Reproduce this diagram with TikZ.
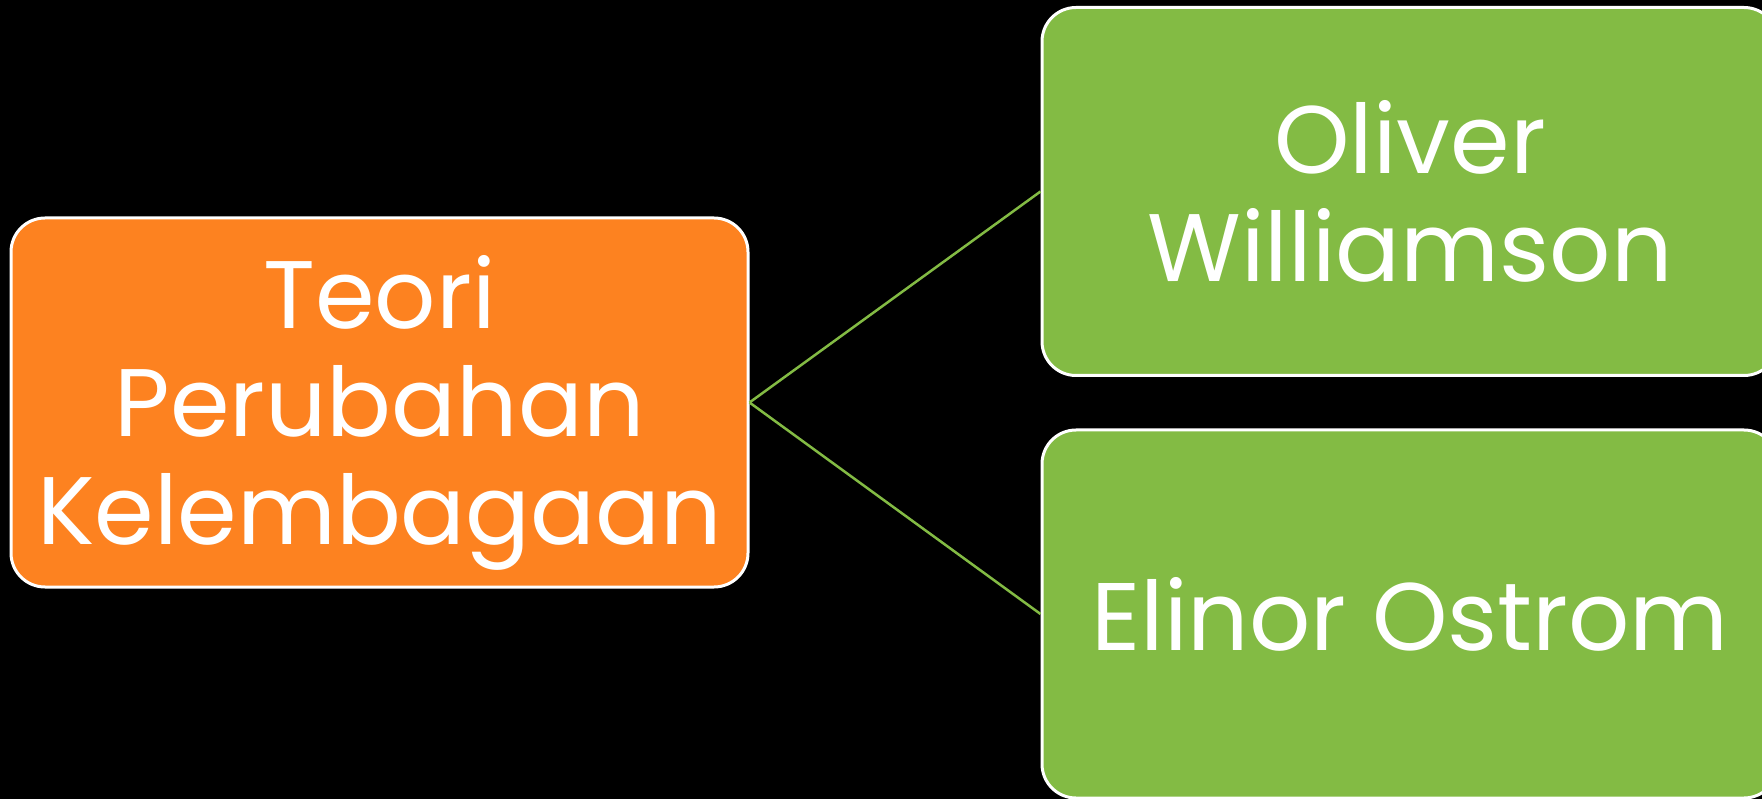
\documentclass[tikz,border=0pt]{standalone}
\usepackage{fontspec}
\setmainfont{Poppins}
\definecolor{boxorange}{HTML}{FD8220}
\definecolor{leafgreen}{HTML}{83BB44}
\begin{document}
\begin{tikzpicture}[x=1pt,y=-1pt,
  box/.style={draw=white, line width=3pt, rounded corners=34pt, text=white,
    align=center, inner sep=0pt, minimum width=736pt, minimum height=368pt,
    font=\fontsize{96}{108}\selectfont},
  caption/.style={text=white, align=center, inner sep=0pt,
    font=\fontsize{96}{108}\selectfont},
  link/.style={draw=leafgreen, line width=2.5pt}]
\useasboundingbox (0,0) rectangle (1762,799);
\clip (0,0) rectangle (1762,799);
\fill[black] (0,0) rectangle (1762,799);
% central box, its text set a little low
\node[box, fill=boxorange, minimum width=737pt, minimum height=369pt] (root) at (379.5,402.5) {};
\node[caption] (roottext) at ([yshift=-10pt]root.center) {Teori\\Perubahan\\Kelembagaan};
% the two names on the right
\node[box, fill=leafgreen] (oliver) at (1410,191.5) {Oliver\\Williamson};
\node[box, fill=leafgreen] (elinor) at (1410,614) {Elinor Ostrom};
\draw[link] (root.east) -- (oliver.west);
\draw[link] (root.east) -- (elinor.west);
\end{tikzpicture}
\end{document}
